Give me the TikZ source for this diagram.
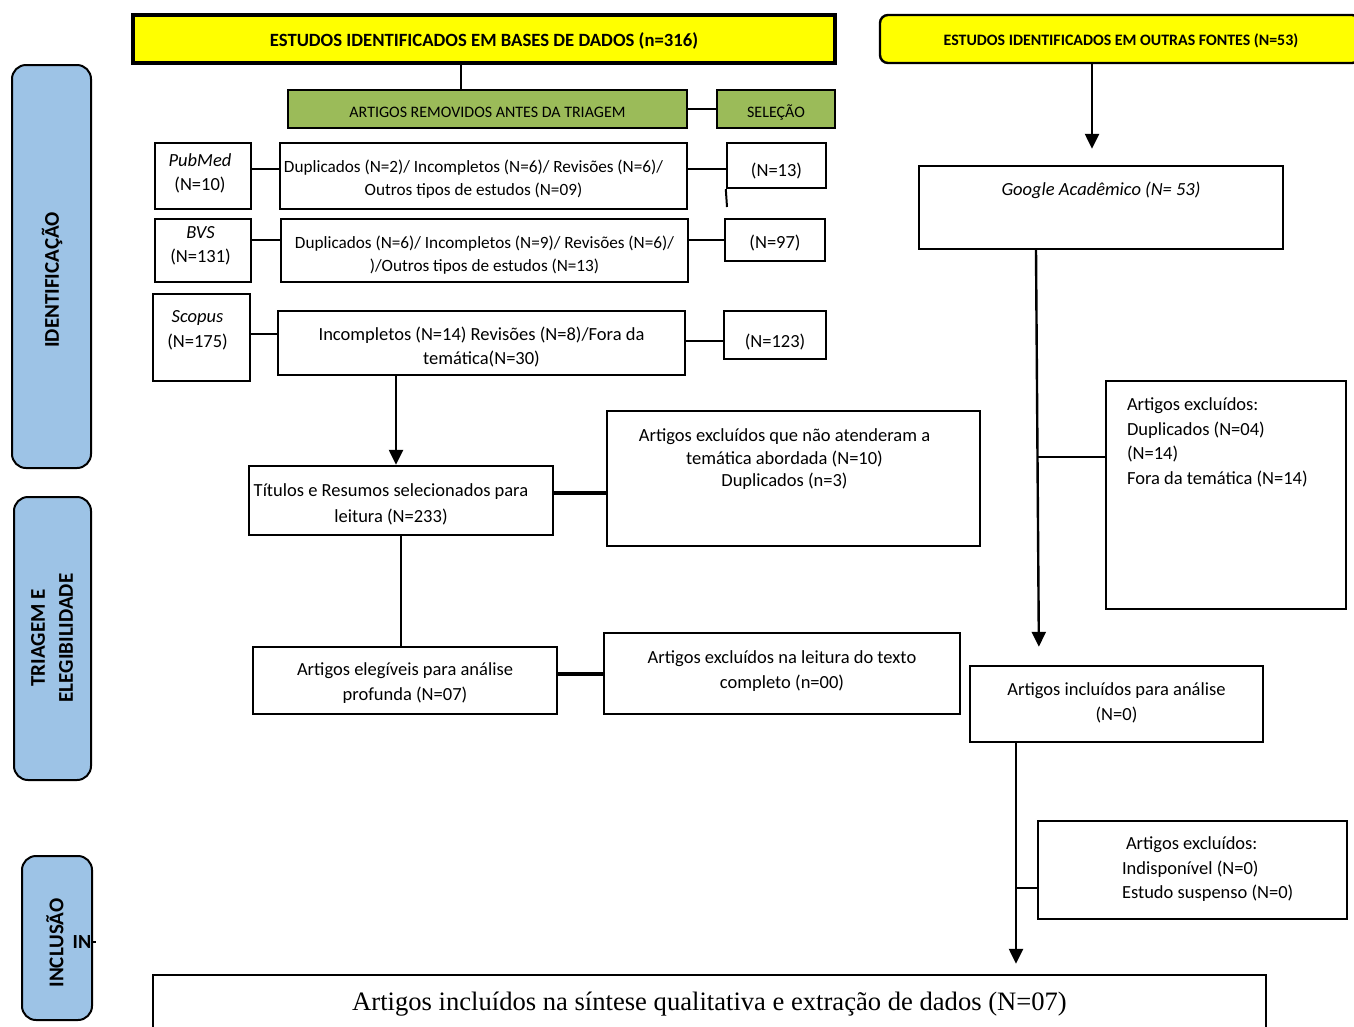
\documentclass[tikz,border=0pt]{standalone}
\usepackage{fontspec}
\setmainfont{Carlito}
\newfontfamily\serifrm{Liberation Serif}
\usetikzlibrary{arrows.meta,positioning,calc}
\definecolor{hdryellow}{HTML}{FFFF00}
\definecolor{selgreen}{HTML}{9BBB59}
\definecolor{stageblue}{HTML}{9DC3E6}

\begin{document}
\begin{tikzpicture}[x=1pt,y=-1pt,
  box/.style={draw,line width=2.4pt,inner sep=0pt},
  hdr/.style={box,fill=hdryellow},
  grn/.style={box,fill=selgreen,line width=2pt},
  stage/.style={draw,line width=2pt,fill=stageblue,rounded corners=14pt,inner sep=0pt},
  stagetxt/.style={rotate=90,align=center,inner sep=0pt,font=\fontsize{21}{28}\selectfont\bfseries},
  txt/.style={inner sep=0pt,align=center,font=\fontsize{18.5}{24.5}\selectfont},
  dupfont/.style={font=\fontsize{17.2}{23}\selectfont},
  link/.style={line width=2.4pt},
  flow/.style={line width=2.4pt,-{Triangle[width=14pt,length=15pt]}}]
  \useasboundingbox (0,0) rectangle (1354,1026);

  % stages on the left
  \node[stage,minimum width=79,minimum height=403] (stid) at (51.5,266.5) {};
  \node[stagetxt] (stidtxt) at (52,280) {IDENTIFICAÇÃO};
  \node[stage,minimum width=77,minimum height=283] (sttri) at (52.5,638.5) {};
  \node[stagetxt] (sttritxt) at (52,638) {TRIAGEM E\\ELEGIBILIDADE};
  \node[stage,minimum width=70,minimum height=164] (stinc) at (57,938) {};
  \node[stagetxt] (stinctxt) at (55,943) {INCLUSÃO};
  \node[inner sep=0pt,font=\fontsize{20}{22}\selectfont\bfseries] (stray) at (82,942) {IN};
  \draw[line width=1.2pt] (stray.east) -- ++(5,0);

  % headers
  \node[hdr,line width=4.5pt,minimum width=702,minimum height=48] (yel1) at (484,39) {};
  \node[txt,font=\fontsize{18.7}{22}\selectfont\bfseries] (yel1txt) at ([yshift=-2pt]yel1.center)
    {ESTUDOS IDENTIFICADOS EM BASES DE DADOS (n=316)};
  \node[hdr,rounded corners=8pt,minimum width=480,minimum height=48] (yel2) at (1120,39) {};
  \node[txt,font=\fontsize{15.9}{18}\selectfont\bfseries] (yel2txt) at (1121,41)
    {ESTUDOS IDENTIFICADOS EM OUTRAS FONTES (N=53)};

  % removed before screening
  \node[grn,minimum width=399,minimum height=38] (grn1) at (487.5,109) {};
  \node[txt,font=\fontsize{16}{18}\selectfont] (grn1txt) at ([yshift=-3pt]grn1.center)
    {ARTIGOS REMOVIDOS ANTES DA TRIAGEM};
  \node[grn,minimum width=118,minimum height=38] (grn2) at (776,109) {};
  \node[txt,font=\fontsize{16}{18}\selectfont] (grn2txt) at ([yshift=-3pt]grn2.center) {SELEÇÃO};
  \draw[link] ([xshift=-23pt]yel1.south) -- ([xshift=-23pt]yel1.south |- grn1.north);
  \draw[link] (grn1.east) -- (grn2.west);

  % databases
  \node[box,minimum width=96,minimum height=66] (pubmed) at (203,176) {};
  \node[txt] (pubmedtxt) at ([xshift=-3pt,yshift=2.5pt]pubmed.center) {\itshape PubMed\\(N=10)};
  \node[box,minimum width=407,minimum height=66] (dup1) at (483.5,176) {};
  \node[txt,dupfont] (dup1txt) at ([xshift=-10pt,yshift=-3pt]dup1.center)
    {Duplicados (N=2)/ Incompletos (N=6)/ Revisões (N=6)/\\Outros tipos de estudos (N=09)};
  \node[box,minimum width=99,minimum height=45] (n13) at (776.5,165.5) {};
  \node[txt] (n13txt) at ([yshift=-6pt]n13.center) {(N=13)};
  \coordinate (n13tail) at (727,207);

  \node[box,minimum width=96,minimum height=63] (bvs) at (203,250.5) {};
  \node[txt] (bvstxt) at ([xshift=-2.5pt,yshift=4.5pt]bvs.center) {\itshape BVS\\(N=131)};
  \node[box,minimum width=407,minimum height=63] (dup2) at (484.5,250.5) {};
  \node[txt,dupfont] (dup2txt) at ([yshift=-4.5pt]dup2.center)
    {Duplicados (N=6)/ Incompletos (N=9)/ Revisões (N=6)/\\)/Outros tipos de estudos (N=13)};
  \node[box,minimum width=100,minimum height=42] (n97) at (775,240) {};
  \node[txt] (n97txt) at ([yshift=-3pt]n97.center) {(N=97)};

  \node[box,minimum width=97,minimum height=87] (scopus) at (201.5,337.5) {};
  \node[txt] (scopustxt) at ([xshift=-4pt,yshift=7pt]scopus.center) {\itshape Scopus\\(N=175)};
  \node[box,minimum width=407,minimum height=64] (inc) at (481.5,343) {};
  \node[txt] (inctxt) at ([yshift=-4pt]inc.center)
    {Incompletos (N=14) Revisões (N=8)/Fora da\\temática(N=30)};
  \node[box,minimum width=102,minimum height=48] (n123) at (775,335) {};
  \node[txt] (n123txt) at ([yshift=-7pt]n123.center) {(N=123)};

  \draw[link] ([yshift=7pt]pubmed.east) -- ([yshift=7pt]pubmed.east -| dup1.west);
  \draw[link] ([yshift=7pt]dup1.east) -- ([yshift=7pt]dup1.east -| n13.west);
  \draw[line width=2pt] (n13.south west) -- (n13tail);
  \draw[link] ([yshift=10.5pt]bvs.east) -- ([yshift=10.5pt]bvs.east -| dup2.west);
  \draw[link] (dup2.east |- n97.west) -- (n97.west);
  \draw[link] ([yshift=3.5pt]scopus.east) -- ([yshift=3.5pt]scopus.east -| inc.west);
  \draw[link] ([yshift=2pt]inc.east) -- ([yshift=2pt]inc.east -| n123.west);

  % screening
  \node[box,minimum width=304,minimum height=69] (tit) at (401,500.5) {};
  \node[txt,font=\fontsize{18.5}{26}\selectfont] (tittxt) at ([xshift=-10pt,yshift=-3.5pt]tit.center)
    {Títulos e Resumos selecionados para\\leitura (N=233)};
  \node[box,minimum width=373,minimum height=135] (exc1) at (793.5,478.5) {};
  \node[txt,font=\fontsize{18.5}{22.5}\selectfont,below=19pt of exc1.north,xshift=-9pt] (exc1txt)
    {Artigos excluídos que não atenderam a\\temática abordada (N=10)\\Duplicados (n=3)};
  \draw[flow] ([xshift=-85.5pt]inc.south) -- ([xshift=-85.5pt]inc.south |- tit.north);
  \draw[line width=3.2pt] ([yshift=7.5pt]tit.east) -- ([yshift=7.5pt]tit.east -| exc1.west);

  \node[box,minimum width=304,minimum height=67] (eleg) at (405,680.5) {};
  \node[txt] (elegtxt) at ([yshift=-2.5pt]eleg.center) {Artigos elegíveis para análise\\profunda (N=07)};
  \node[box,minimum width=356,minimum height=81] (exc2) at (782,673.5) {};
  \node[txt] (exc2txt) at ([yshift=2.5pt]exc2.center)
    {Artigos excluídos na leitura do texto\\completo (n=00)};
  \draw[link] (tit.south) -- (tit.south |- eleg.north);
  \draw[line width=3.2pt] ([yshift=6.5pt]eleg.east) -- ([yshift=6.5pt]eleg.east -| exc2.west);

  % other sources
  \node[box,minimum width=364,minimum height=83] (goog) at (1101,207.5) {};
  \node[txt,font=\fontsize{18.5}{23}\selectfont\itshape,below=17pt of goog.north] (googtxt)
    {Google Acadêmico (N= 53)};
  \draw[flow,shorten >=16pt] ([xshift=-28pt]yel2.south) -- ([xshift=-28pt]yel2.south |- goog.north);

  \node[box,minimum width=240,minimum height=228] (exc3) at (1226,495) {};
  \node[txt,align=left,below right=18pt and 22pt of exc3.north west] (exc3txt)
    {Artigos excluídos:\\Duplicados (N=04)\\(N=14)\\Fora da temática (N=14)};

  \node[box,minimum width=293,minimum height=76] (incl) at (1116.5,704) {};
  \node[txt] (incltxt) at ([yshift=1pt]incl.center) {Artigos incluídos para análise\\(N=0)};
  \draw[flow,shorten >=18pt] ([xshift=-65pt]goog.south) -- ([xshift=-77.5pt]incl.north);
  \coordinate (gbr) at (1037.5,457);
  \draw[link] (gbr) -- (gbr -| exc3.west);

  \node[box,minimum width=309,minimum height=98] (exc4) at (1192.5,870) {};
  \node[txt,align=left,below right=17pt and 85pt of exc4.north west] (exc4txt)
    {\hspace{4pt}Artigos excluídos:\\Indisponível (N=0)\\Estudo suspenso (N=0)};

  % inclusion
  \node[box,minimum width=1113,minimum height=65] (final) at (709.5,1007.5) {};
  \node[inner sep=0pt,font=\serifrm\fontsize{26.6}{30}\selectfont] (finaltxt) at (final.north |- 0,1004)
    {Artigos incluídos na síntese qualitativa e extração de dados (N=07)};
  \draw[flow,shorten >=10pt] ([xshift=-100.5pt]incl.south) -- ([xshift=306.5pt]final.north);
  \draw[link] ([xshift=-100.5pt]incl.south |- exc4.west) ++(0,18) -- ([yshift=-18pt]exc4.west);
\end{tikzpicture}
\end{document}
